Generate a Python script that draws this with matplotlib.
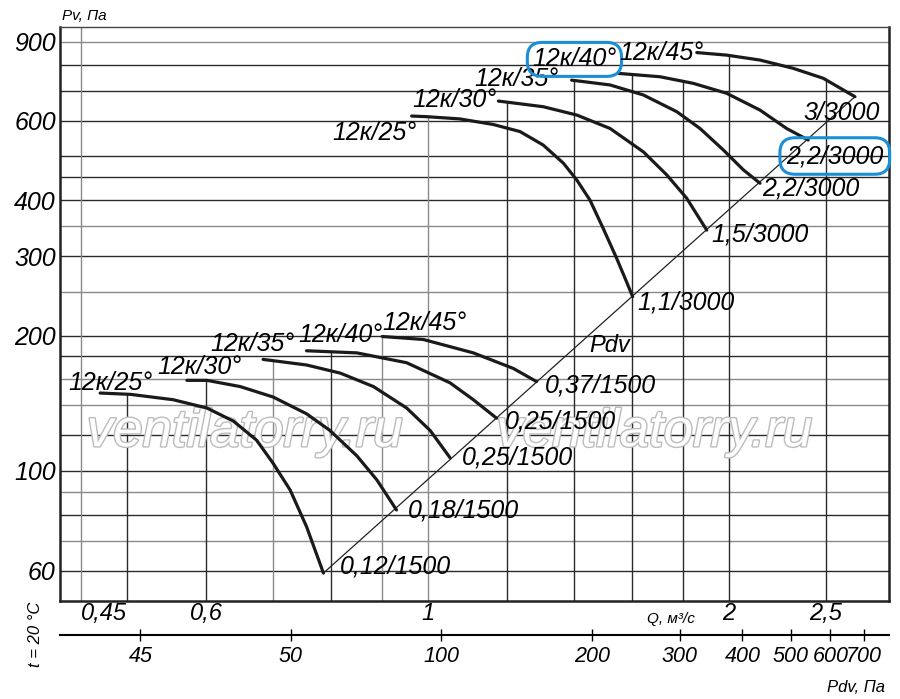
import numpy as np
import matplotlib
matplotlib.use('Agg')
import matplotlib.pyplot as plt
import matplotlib.patheffects as pe

plt.rcParams['font.family'] = ['Liberation Sans', 'DejaVu Sans']
plt.rcParams['font.style'] = 'italic'

# fan curves, 1500 rpm (Q m3/s, Pv Pa)
q_25_1500 = [0.470, 0.504, 0.556, 0.601, 0.639, 0.674, 0.700, 0.728, 0.756, 0.786]
p_25_1500 = [149, 148, 144, 138, 129, 117, 104, 90.7, 75.2, 59.3]
q_30_1500 = [0.574, 0.601, 0.649, 0.700, 0.756, 0.798, 0.849, 0.889, 0.930]
p_30_1500 = [159, 159, 154, 146, 134, 123, 108, 95.5, 81.9]
q_35_1500 = [0.684, 0.756, 0.817, 0.882, 0.952, 1.005, 1.052]
p_35_1500 = [177, 172, 165, 154, 138, 123, 107]
q_40_1500 = [0.756, 0.849, 0.952, 1.052, 1.110, 1.171]
p_40_1500 = [185, 183, 174, 157, 144, 131]
q_45_1500 = [0.900, 0.989, 1.110, 1.217, 1.284]
p_45_1500 = [199, 196, 183, 169, 158]

# fan curves, 3000 rpm
q_25_3000 = [0.963, 0.997, 1.076, 1.162, 1.236, 1.304, 1.366, 1.409, 1.452, 1.497,
             1.544, 1.580, 1.602]
p_25_3000 = [615, 613, 606, 589, 568, 530, 483, 443, 400, 346, 297, 263, 244]
q_30_3000 = [1.176, 1.304, 1.409, 1.521, 1.642, 1.733, 1.814, 1.900]
p_30_3000 = [664, 645, 618, 577, 512, 455, 404, 343]
q_35_3000 = [1.392, 1.521, 1.642, 1.773, 1.871, 1.974, 2.067, 2.148]
p_35_3000 = [739, 721, 685, 629, 577, 517, 467, 436]
q_40_3000 = [1.550, 1.706, 1.842, 1.989, 2.148, 2.284, 2.400]
p_40_3000 = [765, 752, 727, 691, 634, 577, 544]
q_45_3000 = [1.857, 1.989, 2.148, 2.319, 2.485, 2.673]
p_45_3000 = [851, 840, 819, 785, 746, 679]

angles = ['12к/25°', '12к/30°', '12к/35°', '12к/40°', '12к/45°']
motors_1500 = ['0,12/1500', '0,18/1500', '0,25/1500', '0,25/1500', '0,37/1500']
motors_3000 = ['1,1/3000', '1,5/3000', '2,2/3000', '2,2/3000', '3/3000']

p_ticks = [60, 100, 200, 300, 400, 600, 900]
q_ticks = [0.45, 0.6, 1, 2, 2.5]
q_tick_labels = ['0,45', '0,6', '1', '2', '2,5']
pdv_ticks = [25, 50, 100, 200, 300, 400, 500, 600, 700]
pdv_labels = ['45', '50', '100', '200', '300', '400', '500', '600', '700']
p_grid = [60, 70, 80, 90, 100, 120, 140, 160, 180, 200, 250, 300, 350, 400,
          450, 500, 600, 700, 800, 900]
p_grid_light = [70, 90, 140, 160, 250, 350, 900]
q_grid = [0.45, 0.5, 0.6, 0.7, 0.8, 0.9, 1.0, 1.2, 1.4, 1.6, 1.8, 2.0, 2.5]
q_grid_light = [0.45, 0.7, 0.9, 1.0]
k_pdv = 94.0

curves_1500 = [(q_25_1500, p_25_1500), (q_30_1500, p_30_1500), (q_35_1500, p_35_1500),
               (q_40_1500, p_40_1500), (q_45_1500, p_45_1500)]
curves_3000 = [(q_25_3000, p_25_3000), (q_30_3000, p_30_3000), (q_35_3000, p_35_3000),
               (q_40_3000, p_40_3000), (q_45_3000, p_45_3000)]

fig = plt.figure(figsize=(9, 6.99), dpi=100)
ax = fig.add_axes([60/900, 1-601/699, 829/900, 574/699])
ax.set_xscale('log')
ax.set_yscale('log')
xlim = (0.4285, 2.891)
ylim = (51.4, 970)
ax.set_xlim(xlim)
ax.set_ylim(ylim)

# grid: horizontal lines full width, vertical lines stop at the upper curve
for p in p_grid:
    c = '#8a8a8a' if p in p_grid_light else '#2a2a2a'
    ax.axhline(p, color=c, lw=1.0, zorder=1)

def top_of(q):
    tops = []
    for qs, ps in curves_1500 + curves_3000:
        if qs[0] <= q <= qs[-1]:
            tops.append(10**np.interp(np.log10(q), np.log10(qs), np.log10(ps)))
    return max(tops) if tops else ylim[1]

for q in q_grid:
    c = '#8a8a8a' if q in q_grid_light else '#2a2a2a'
    ax.vlines(q, ylim[0], top_of(q), color=c, lw=1.0, zorder=1)

# Pdv line through the curve ends
ax.plot([q_25_1500[-1], q_45_3000[-1]], [p_25_1500[-1], p_45_3000[-1]],
        color='#222222', lw=0.9, zorder=2)
ax.text(0.639, 0.434, 'Pdv', transform=ax.transAxes, fontsize=17, zorder=4)

start_off_1500 = [(-32, 3), (-30, 6), (-53, 8), (-8, 9), (0, 7)]
end_off_1500 = [(16, 0), (11, -8), (12, -7), (8, -10), (8, -11)]
start_off_3000 = [(-79, -24), (-86, -6), (-97, -6), (-86, 7), (-77, -7)]
end_off_3000 = [(5, -13), (5, -11), (2, -12), (-22, -23), (-52, -23)]

box = dict(boxstyle='round,pad=0.2,rounding_size=0.6', fc='none', ec='#1a8fd8', lw=2.2)

for i, (qs, ps) in enumerate(curves_1500):
    ax.plot(qs, ps, color='#1a1a1a', lw=2.3, solid_capstyle='round',
            solid_joinstyle='round', zorder=3)
    ax.annotate(angles[i], (qs[0], ps[0]), xytext=start_off_1500[i],
                textcoords='offset pixels', fontsize=18, va='baseline', zorder=4)
    ax.annotate(motors_1500[i], (qs[-1], ps[-1]), xytext=end_off_1500[i],
                textcoords='offset pixels', fontsize=18, va='baseline', zorder=4)

for i, (qs, ps) in enumerate(curves_3000):
    ax.plot(qs, ps, color='#1a1a1a', lw=2.3, solid_capstyle='round',
            solid_joinstyle='round', zorder=3)
    ax.annotate(angles[i], (qs[0], ps[0]), xytext=start_off_3000[i],
                textcoords='offset pixels', fontsize=18, va='baseline', zorder=4,
                bbox=box if i == 3 else None)
    ax.annotate(motors_3000[i], (qs[-1], ps[-1]), xytext=end_off_3000[i],
                textcoords='offset pixels', fontsize=18, va='baseline', zorder=4,
                bbox=dict(box, boxstyle='round,pad=0.25,rounding_size=0.6') if i == 3 else None)

# watermark
for xw in [0.223, 0.717]:
    ax.text(xw, 0.294, 'ventilatorry.ru', transform=ax.transAxes, fontsize=38,
            color='white', ha='center', va='center', zorder=1.5,
            path_effects=[pe.withStroke(linewidth=2.0, foreground='#bcbcbc')])

# ticks
ax.set_yticks(p_ticks, [str(p) for p in p_ticks])
ax.set_yticks([], minor=True)
ax.set_xticks(q_ticks, q_tick_labels)
ax.set_xticks([], minor=True)
ax.tick_params(length=0, labelsize=18)
ax.tick_params(axis='y', pad=3)
ax.tick_params(axis='x', pad=1, labelsize=17)
ax.get_xticklabels()[0].set_ha('left')

for s in ['left', 'bottom', 'right']:
    ax.spines[s].set_linewidth(1.8)
    ax.spines[s].set_color('#222222')
ax.spines['top'].set_linewidth(1.0)
ax.spines['top'].set_color('#444444')

# dynamic pressure axis
sec = ax.secondary_xaxis(-0.0592, functions=(lambda q: k_pdv * np.abs(q)**2,
                                             lambda p: np.sqrt(np.abs(p) / k_pdv)))
sec.set_alignment('bottom')
sec.set_xticks(pdv_ticks, pdv_labels)
sec.set_xticks([], minor=True)
sec.tick_params(direction='inout', length=8, width=1, pad=4, labelsize=15.5)
sec.spines['bottom'].set_linewidth(1.5)

ax.text(0.0024, 1.012, 'Pv, Па', transform=ax.transAxes, fontsize=11)
ax.text(0.708, -0.038, 'Q, м³/с', transform=ax.transAxes, fontsize=11)
ax.text(0.995, -0.159, 'Pdv, Па', transform=ax.transAxes, fontsize=12, ha='right')
ax.text(-0.030, -0.0575, 't = 20 °C', transform=ax.transAxes, fontsize=12,
        rotation=90, ha='center', va='center')

fig.savefig('out.png', dpi=100)
